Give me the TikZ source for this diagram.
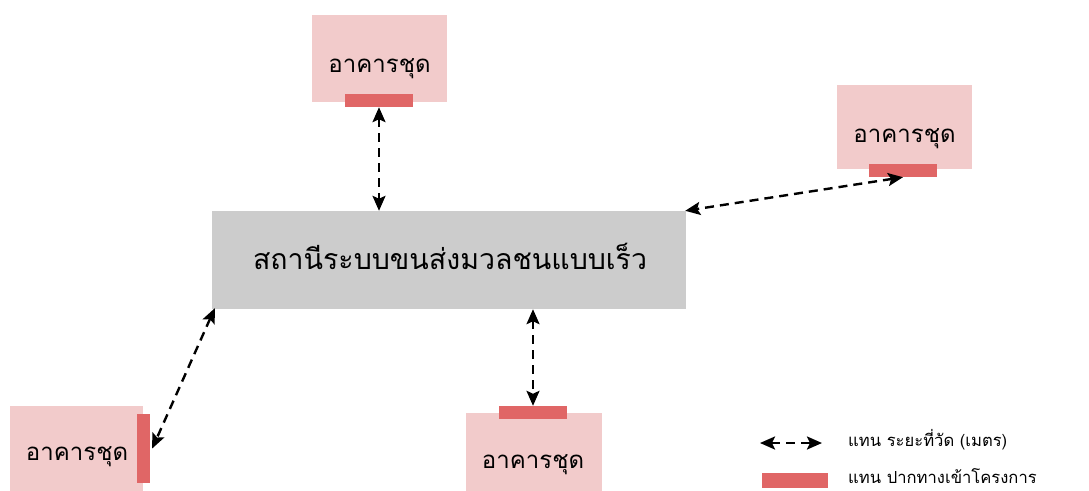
\documentclass[tikz,border=0pt]{standalone}
\usepackage{fontspec}
\usetikzlibrary{arrows.meta}
\newfontfamily\thai[Script=Thai]{Loma}
\definecolor{bldg}{RGB}{242,203,203}
\definecolor{gate}{RGB}{224,102,102}
\definecolor{stn}{RGB}{204,204,204}
\tikzset{
  bldgbox/.style={rectangle, fill=bldg, draw=none, inner sep=0pt, minimum width=135pt, minimum height=87pt},
  gatebar/.style={rectangle, fill=gate, draw=none, inner sep=0pt},
  lbl/.style={font=\thai\fontsize{24}{28}\selectfont, inner sep=0pt, anchor=base},
  dist/.style={line width=2.4pt, dash pattern=on 9pt off 6pt, {Stealth[length=15pt,width=13pt,inset=3pt]}-{Stealth[length=15pt,width=13pt,inset=3pt]}},
}
\begin{document}
\begin{tikzpicture}[x=1pt,y=-1pt]
\useasboundingbox (0,0) rectangle (1089,490);
% buildings
\node[bldgbox] (tbox) at (379.5,58.5) {};
\node[lbl] (tlbl) at (379.5,72) {อาคารชุด};
\node[gatebar, minimum width=68pt, minimum height=13pt] (tb) at (379,100.5) {};

\node[bldgbox, minimum height=84pt] (rbox) at (904.5,127) {};
\node[lbl] (rlbl) at (904.5,142) {อาคารชุด};
\node[gatebar, minimum width=68pt, minimum height=13pt] (rb) at (903,170.5) {};

\node[bldgbox, minimum width=133pt, minimum height=90pt] (lbox) at (76.5,451) {};
\node[lbl] (llbl) at (77,460) {อาคารชุด};
\node[gatebar, minimum width=13pt, minimum height=69pt] (lb) at (143.5,448.5) {};

\node[bldgbox, minimum width=136pt, minimum height=88pt] (bbox) at (534,457) {};
\node[lbl] (blbl) at (533,468) {อาคารชุด};
\node[gatebar, minimum width=68pt, minimum height=13pt] (bb) at (533,412.5) {};

% station
\node[rectangle, fill=stn, inner sep=0pt, minimum width=474pt, minimum height=98pt] (c) at (449,260) {};
\node[font=\thai\fontsize{28.5}{33}\selectfont, inner sep=0pt, anchor=base] (ct) at (450,269) {สถานีระบบขนส่งมวลชนแบบเร็ว};

% distances
\draw[dist] (tb.south) -- (c.north -| tb.south);
\draw[dist] (rb.south) -- ([xshift=-1pt]c.north east);
\draw[dist] ([shift={(3pt,1pt)}]c.south west) -- ([xshift=2pt]lb.east);
\draw[dist] (c.south -| bb.north) -- (bb.north);

% legend
\coordinate (la) at (760,443);
\coordinate (lz) at (822,443);
\draw[dist] (la) -- (lz);
\node[anchor=base west, inner sep=0pt, font=\thai\fontsize{16.6}{19}\selectfont] (lt1) at (848,446) {แทน ระยะที่วัด (เมตร)};
\node[gatebar, minimum width=66pt, minimum height=15pt] (lg) at (795,480) {};
\node[anchor=base west, inner sep=0pt, font=\thai\fontsize{16.6}{19}\selectfont] (lt2) at (848,483) {แทน ปากทางเข้าโครงการ};
\end{tikzpicture}
\end{document}
